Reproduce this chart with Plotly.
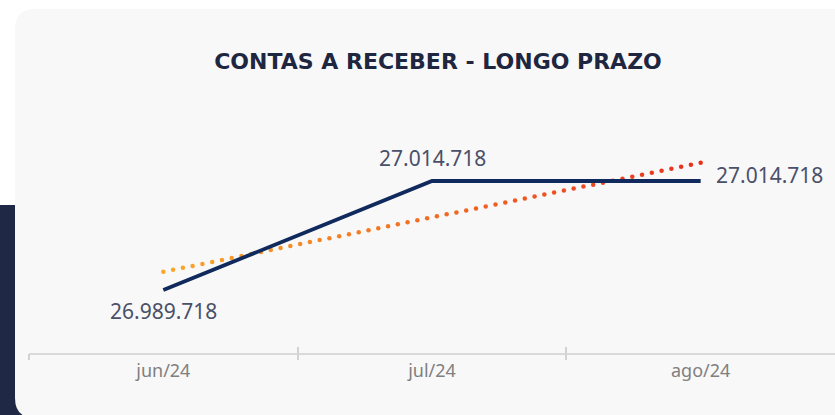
import numpy as np
import plotly.graph_objects as go

# dados
meses = ["jun/24", "jul/24", "ago/24"]
valores = [26989718, 27014718, 27014718]
titulo = "CONTAS A RECEBER - LONGO PRAZO"

W, H = 835, 415
ML, MR, MT, MB = 29, 0, 100, 62
PW, PH = W - ML - MR, H - MT - MB


def px(x):
    return (x - ML) / PW


def py(y):
    return (H - MB - y) / PH


def rounded_rect(x0, y0, x1, y1, r):
    # rectangle with rounded corners, pixel coords -> paper coords
    p = [
        f"M {px(x0 + r)},{py(y0)}",
        f"L {px(x1 - r)},{py(y0)}",
        f"Q {px(x1)},{py(y0)} {px(x1)},{py(y0 + r)}",
        f"L {px(x1)},{py(y1 - r)}",
        f"Q {px(x1)},{py(y1)} {px(x1 - r)},{py(y1)}",
        f"L {px(x0 + r)},{py(y1)}",
        f"Q {px(x0)},{py(y1)} {px(x0)},{py(y1 - r)}",
        f"L {px(x0)},{py(y0 + r)}",
        f"Q {px(x0)},{py(y0)} {px(x0 + r)},{py(y0)}",
        "Z",
    ]
    return " ".join(p)


fmt = lambda v: f"{v:,}".replace(",", ".")

idx = np.arange(len(meses))
coef = np.polyfit(idx, valores, 1)
tx = np.linspace(0, len(meses) - 1, 56)
ty = np.polyval(coef, tx)

fig = go.Figure()

# linha de tendencia pontilhada em degradê
fig.add_trace(go.Scatter(
    x=tx, y=ty, mode="markers",
    marker=dict(size=4.5, color=tx, colorscale=[[0, "#F9A82C"], [0.5, "#F26C23"], [1, "#E8301D"]],
                line=dict(width=0)),
    hoverinfo="skip", showlegend=False, xaxis="x",
))

fig.add_trace(go.Scatter(
    x=idx, y=valores, mode="lines",
    line=dict(color="#102A5E", width=3.8),
    showlegend=False,
))

lab_font = dict(family="Noto Sans", size=21, color="#4A5068")
shifts = [(0, -21, "center"), (0, 23, "center"), (13, 6, "left")]
for i, v in enumerate(valores):
    xs, ys, al = shifts[i]
    fig.add_annotation(x=i, y=v, text=fmt(v), showarrow=False, xshift=xs, yshift=ys,
                       xanchor=al, yanchor="middle", font=lab_font)

fig.add_shape(type="path", xref="paper", yref="paper", layer="below",
              path=rounded_rect(-10, 205, 40, 430, 0), fillcolor="#1F2845", line_width=0)
fig.add_shape(type="path", xref="paper", yref="paper", layer="below",
              path=rounded_rect(15, 9, 870, 418, 20), fillcolor="#F8F8F8", line_width=0)

fig.update_layout(
    width=W, height=H,
    margin=dict(l=ML, r=MR, t=MT, b=MB),
    paper_bgcolor="white", plot_bgcolor="rgba(0,0,0,0)",
    title=dict(text=f"<b>{titulo}</b>", x=438 / W, xanchor="center", y=1 - 61 / H, yanchor="middle",
               font=dict(family="DejaVu Sans", size=22, color="#1E2640")),
    xaxis=dict(range=[-0.5, 2.5], tickvals=idx, ticktext=meses, showgrid=False, zeroline=False,
               showline=True, linecolor="#D9D9D9", linewidth=2,
               tickfont=dict(family="Noto Sans", size=18, color="#808080"), ticklen=0),
    xaxis2=dict(range=[-0.5, 2.5], overlaying="x", anchor="y", side="bottom", showgrid=False,
                zeroline=False, showline=False, tickvals=[-0.5, 0.5, 1.5], showticklabels=False,
                ticks="outside", ticklen=6, tickwidth=1.5, tickcolor="#D2D2D2"),
    xaxis3=dict(range=[-0.5, 2.5], overlaying="x", anchor="y", side="bottom", showgrid=False,
                zeroline=False, showline=False, tickvals=[-0.5, 0.5, 1.5], showticklabels=False,
                ticks="inside", ticklen=6, tickwidth=1.5, tickcolor="#D2D2D2"),
    yaxis=dict(range=[26975268, 27033296], visible=False, fixedrange=True),
)
fig.add_trace(go.Scatter(x=[None], y=[None], xaxis="x2", showlegend=False))
fig.add_trace(go.Scatter(x=[None], y=[None], xaxis="x3", showlegend=False))

# tira a margem padrão do body para a figura ficar no canto da janela
fig.write_html("out.html", config={"displayModeBar": False},
               post_script="document.body.style.margin='0';")
